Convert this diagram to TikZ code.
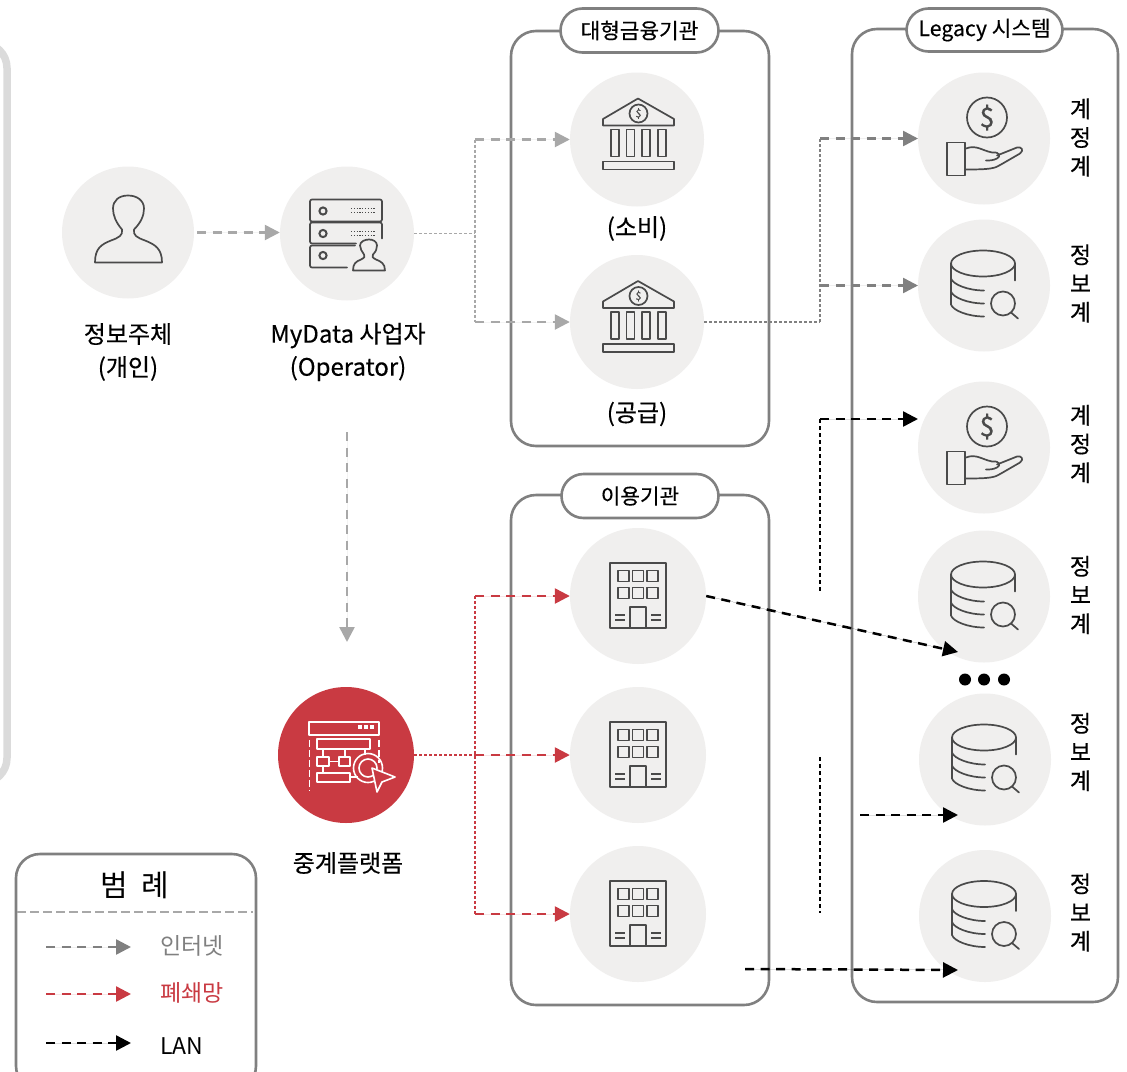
\documentclass[tikz,border=0pt]{standalone}
\usepackage{fontspec}
\setmainfont{Noto Sans CJK KR}
\newfontfamily\medfont{Noto Sans CJK KR}[FakeBold=0.35]
\usetikzlibrary{arrows.meta}
\definecolor{disc}{HTML}{F0EFEE}
\definecolor{ink}{HTML}{4A4A4A}
\definecolor{frame}{HTML}{808080}
\definecolor{lightg}{HTML}{A8A8A8}
\definecolor{midg}{HTML}{808080}
\definecolor{redc}{HTML}{C93A42}
\tikzset{
  x=1pt,y=-1pt,
  disc/.style={circle,fill=disc,draw=none,minimum size=#1,inner sep=0pt},
  groupbox/.style={draw=frame,line width=2.6pt,rounded corners=25pt,fill=white},
  pill/.style={draw=frame,line width=2.6pt,rounded corners=22pt,fill=white,inner sep=0pt},
  icon/.style={draw=ink,line width=1.7pt,line join=round,line cap=round},
  wicon/.style={draw=white,line width=1.6pt,line join=round},
  lbl/.style={inner sep=0pt,align=center,font=\medfont\fontsize{24}{33}\selectfont},
  side/.style={inner sep=0pt,align=center,font=\medfont\fontsize{23}{28.7}\selectfont},
  pilltext/.style={font=\medfont\fontsize{21.3}{25}\selectfont},
  thick dash/.style={line width=2.5pt,dash pattern=on 9pt off 6.5pt,-{Triangle[length=15pt,width=15pt]}},
  thin dash/.style={line width=1.1pt,dash pattern=on 3pt off 2pt},
  lan thin/.style={line width=1.4pt,dash pattern=on 4pt off 3pt},
  bankicon/.pic={\begin{scope}[shift={(-637,-139)}]
    \draw[icon] (603,118.5) -- (638,98) -- (674,118.5) -- (674,125) -- (603,125) -- cycle;
    \draw[icon] (638.5,113) circle[radius=9pt];
    \node[font=\medfont\fontsize{11}{11}\selectfont,text=ink,inner sep=0pt] at (638.5,113) {\$};
    \foreach \a in {611,626.5,642,658}{\draw[icon] (\a,129) rectangle ++(8,27);}
    \draw[icon] (603,161) rectangle (674,169);
  \end{scope}},
  handicon/.pic={\begin{scope}[shift={(-984,-138)}]
    \draw[icon] (987,117) circle[radius=20pt];
    \node[font=\medfont\fontsize{27}{27}\selectfont,text=ink,inner sep=0pt] at (987,117) {\$};
    \draw[icon] (947,142) rectangle (965,175);
    \draw[icon] (966,148) .. controls (976,144) and (982,150) .. (992,152) .. controls (1000,151) and (1001,156) .. (997,158) .. controls (993,160) and (990,160) .. (986,160);
    \draw[icon] (997,155) -- (1017,147) .. controls (1022,146) and (1024,150) .. (1020,153) -- (1001,164) .. controls (995,168) and (990,169) .. (966,169);
  \end{scope}},
  dbicon/.pic={\begin{scope}[shift={(-984,-285)}]
    \draw[icon] (983,263) ellipse[x radius=32pt,y radius=13pt];
    \draw[icon] (951,263) -- (951,304) .. controls (953,310) and (968,316) .. (984,316);
    \draw[icon] (1015,263) -- (1015,280);
    \draw[icon] (951,278) .. controls (953,284) and (968,290) .. (984,290);
    \draw[icon] (951,291) .. controls (953,297) and (968,303) .. (984,303);
    \draw[icon] (1003,303) circle[radius=12pt];
    \draw[icon] (1011,312) -- (1018,318);
  \end{scope}},
  personicon/.pic={\begin{scope}[shift={(-128,-232)}]
    \draw[icon] (95,262) -- (162,262)
      .. controls (162,248) and (155,244) .. (145,240)
      .. controls (137,237) and (133,235) .. (134,229)
      .. controls (141,222) and (144,215) .. (144,208)
      .. controls (144,200) and (137,195) .. (128,195)
      .. controls (119,195) and (113,200) .. (113,208)
      .. controls (113,215) and (116,222) .. (122,229)
      .. controls (123,235) and (119,237) .. (111,240)
      .. controls (101,244) and (95,248) .. (95,262) -- cycle;
  \end{scope}},
  servericon/.pic={\begin{scope}[shift={(-347,-233)}]
    \draw[icon,rounded corners=2pt] (310,199) rectangle (382,221);
    \draw[icon,rounded corners=2pt] (356,243) -- (310,243) -- (310,222) -- (382,222) -- (382,238);
    \draw[icon,rounded corners=2pt] (355,245) -- (310,245) -- (310,267) -- (347,267);
    \foreach \b in {210.5,233,255}{\draw[icon,line width=2pt] (323,\b) circle[radius=3.6pt];}
    \foreach \b in {208,212,231,235}{\draw[draw=ink,line width=1.2pt,dash pattern=on 1.2pt off 1.6pt] (351,\b) -- (375,\b);}
    \draw[icon] (353,270) -- (385,270)
      .. controls (385,263) and (381,261) .. (376,259)
      .. controls (372,257) and (372,256) .. (373,254)
      .. controls (376,251) and (377,248) .. (377,245)
      .. controls (377,241) and (373,239) .. (369,239)
      .. controls (365,239) and (360,241) .. (360,245)
      .. controls (360,248) and (362,251) .. (364,254)
      .. controls (365,256) and (365,257) .. (361,259)
      .. controls (356,261) and (353,263) .. (353,270) -- cycle;
  \end{scope}},
  buildingicon/.pic={\begin{scope}[shift={(-638,-596)}]
    \draw[icon,line cap=butt] (610,563) rectangle (666,628);
    \foreach \a in {618,632.5,647}{\foreach \b in {570.5,587.5}{\draw[icon,line cap=butt] (\a,\b) rectangle ++(11,11);}}
    \draw[icon,line cap=butt] (630,628) -- (630,607) -- (646,607) -- (646,628);
    \foreach \b in {615,620}{\draw[icon,line cap=butt] (615,\b) -- (625,\b); \draw[icon,line cap=butt] (651,\b) -- (661,\b);}
  \end{scope}},
  platformicon/.pic={\begin{scope}[shift={(-346,-755)}]
    \draw[wicon] (309,735) -- (309,722) -- (379,722) -- (379,735) -- cycle;
    \foreach \a in {360,366,372}{\fill[white] (\a-2,725) rectangle (\a+2,729);}
    \draw[wicon,dash pattern=on 7pt off 3pt] (309.5,740) -- (309.5,791);
    \draw[wicon,dash pattern=on 7pt off 3pt] (379,740) -- (379,763);
    \draw[wicon] (317,739) rectangle (370,749);
    \draw[wicon] (317,757) rectangle (329,766);
    \draw[wicon] (339,757) rectangle (350,766);
    \draw[wicon] (317,773) rectangle (350,782);
    \draw[wicon] (323,749) -- (323,757) (345,749) -- (345,757) (323,766) -- (323,773) (365,749) -- (365,755) (329,761.5) -- (339,761.5) (350,777) -- (358,777);
    \draw[wicon] (368,768) circle[radius=14.5pt];
    \draw[wicon] (368,768) circle[radius=9pt];
    \draw[wicon,fill=redc] (372,768) -- (395,777) -- (382,782) -- (377,792) -- cycle;
  \end{scope}}
}
\begin{document}
\begin{tikzpicture}
\useasboundingbox (0,0) rectangle (1127,1071);
\clip (0,0) rectangle (1127,1071);
% left frame
\draw[draw=black!14,line width=7.5pt,rounded corners=25pt] (-300,43) rectangle (7,783);
% groups
\draw[groupbox] (511,31) rectangle (769,446);
\draw[groupbox] (511,495) rectangle (769,1005);
\draw[groupbox] (852,29) rectangle (1118,1002);
\node[pill,pilltext,minimum width=158pt,minimum height=44pt] (pillA) at (639.5,30.5) {대형금융기관};
\node[pill,pilltext,minimum width=157pt,minimum height=44pt] (pillB) at (640,496) {이용기관};
\node[pill,pilltext,minimum width=156pt,minimum height=43pt] (pillC) at (984.5,30) {Legacy 시스템};
% discs
\node[disc=132pt] (person) at (128,232.5) {};
\node[disc=134pt] (operator) at (347,233.5) {};
\node[disc=134pt] (bankA) at (637,139.5) {};
\node[disc=134pt] (bankB) at (637,322) {};
\node[disc=132pt] (handA) at (984,138.5) {};
\node[disc=132pt] (dbA) at (984,285.5) {};
\node[disc=132pt] (handB) at (984,447.5) {};
\node[disc=132pt] (dbB) at (984,596.5) {};
\node[disc=132pt] (dbC) at (985,759.5) {};
\node[disc=132pt] (dbD) at (985,916) {};
\node[circle,fill=redc,minimum size=136pt,inner sep=0pt] (platform) at (346,755) {};
\node[disc=136pt] (bldA) at (638,596) {};
\node[disc=136pt] (bldB) at (638,755) {};
\node[disc=136pt] (bldC) at (638,914) {};
% icons
\pic at (person) {personicon};
\pic at (operator) {servericon};
\pic at (bankA) {bankicon};
\pic at (bankB) {bankicon};
\pic at (handA) {handicon};
\pic at (handB) {handicon};
\pic at (dbA) {dbicon};
\pic at (dbB) {dbicon};
\pic at (dbC) {dbicon};
\pic at (dbD) {dbicon};
\pic at (bldA) {buildingicon};
\pic at (bldB) {buildingicon};
\pic at (bldC) {buildingicon};
\pic at (platform) {platformicon};
% labels
\node[lbl] (tPerson) at (128,352) {정보주체\\(개인)};
\node[lbl] (tOp) at (348,352) {MyData 사업자\\(Operator)};
\node[lbl] (tBankA) at (637,228.5) {(소비)};
\node[lbl] (tBankB) at (637,414) {(공급)};
\node[lbl] (tPlat) at (348,863) {중계플랫폼};
\node[side] (sA) at (1080.5,137.5) {계\\정\\계};
\node[side] (sB) at (1080.5,283.5) {정\\보\\계};
\node[side] (sC) at (1080.5,444) {계\\정\\계};
\node[side] (sD) at (1080.5,595) {정\\보\\계};
\node[side] (sE) at (1080.5,752) {정\\보\\계};
\node[side] (sF) at (1080.5,912.5) {정\\보\\계};
% dots
\foreach \a/\n in {965/a,984/b,1004/c}{\node[circle,fill=black,minimum size=12pt,inner sep=0pt] (dot\n) at (\a,679.5) {};}
% junctions
\coordinate (gJ) at (475,233.5);
\coordinate (gT) at (475,139.5);
\coordinate (gB) at (475,322);
\coordinate (mT) at (820,138.5);
\coordinate (mM) at (820,285.5);
\coordinate (mB) at (820,322);
\coordinate (lT) at (820,419);
\coordinate (lE) at (820,593);
\coordinate (lS) at (820,757);
\coordinate (lF) at (820,913);
\coordinate (rJ) at (475,755);
\coordinate (rT) at (475,596);
\coordinate (rB) at (475,914);
\coordinate (dS) at (347,432);
\coordinate (dE) at (347,642);
\coordinate (aE) at (958,652);
\coordinate (bS) at (860,815);
\coordinate (bE) at (958,815);
\coordinate (cS) at (745,969);
\coordinate (cE) at (958,970);
\coordinate (hT) at (918,138.5);
\coordinate (hM) at (918,285.5);
\coordinate (hB) at (918,419);
% grey connectors
\draw[thick dash,draw=lightg,fill=lightg,shorten <=3pt] (person.east) -- (person.east -| operator.west);
\draw[thick dash,draw=lightg,fill=lightg] (dS) -- (dE);
\draw[thin dash,draw=lightg] (operator.east) -- (gJ);
\draw[thin dash,draw=lightg,line width=1.2pt] (gT) -- (gB);
\draw[thick dash,draw=lightg,fill=lightg] (gT) -- (bankA.west);
\draw[thick dash,draw=lightg,fill=lightg] (gB) -- (bankB.west);
\draw[thin dash,draw=midg] (bankB.east) -- (mB);
\draw[thin dash,draw=midg,line width=1.2pt] (mB) -- (mT);
\draw[thick dash,draw=midg,fill=midg] (mT) -- (hT);
\draw[thick dash,draw=midg,fill=midg] (mM) -- (hM);
% red connectors
\draw[thin dash,draw=redc] (platform.east) -- (rJ);
\draw[thin dash,draw=redc,line width=1.2pt] (rT) -- (rB);
\draw[thick dash,draw=redc,fill=redc] (rT) -- (bldA.west);
\draw[thick dash,draw=redc,fill=redc] (rJ) -- (bldB.west);
\draw[thick dash,draw=redc,fill=redc] (rB) -- (bldC.west);
% black connectors
\draw[lan thin,draw=black] (lT) -- (lE);
\draw[lan thin,draw=black] (lS) -- (lF);
\draw[thick dash,draw=black,fill=black] (lT) -- (hB);
\draw[thick dash,draw=black,fill=black] (bldA.east) -- (aE);
\draw[thick dash,draw=black,fill=black] (bS) -- (bE);
\draw[thick dash,draw=black,fill=black] (cS) -- (cE);
% legend
\draw[draw=frame,line width=2.6pt,rounded corners=24pt,fill=white] (16,854) rectangle (256,1090);
\coordinate (lgA) at (17,912);
\coordinate (lgB) at (253,912);
\draw[draw=lightg,line width=2.5pt,dash pattern=on 9pt off 4pt] (lgA) -- (lgB);
\node[inner sep=0pt,font=\fontsize{30}{34}\selectfont] (legendT) at (135,885) {범\hspace{.45em}례};
\coordinate (k1a) at (46,947); \coordinate (k1b) at (131,947);
\coordinate (k2a) at (46,994); \coordinate (k2b) at (131,994);
\coordinate (k3a) at (46,1043); \coordinate (k3b) at (131,1043);
\draw[thick dash,draw=midg,fill=midg] (k1a) -- (k1b);
\draw[thick dash,draw=redc,fill=redc] (k2a) -- (k2b);
\draw[thick dash,draw=black,fill=black] (k3a) -- (k3b);
\node[anchor=west,inner sep=0pt,text=midg,font=\fontsize{23}{28}\selectfont] (kA) at (160,946) {인터넷};
\node[anchor=west,inner sep=0pt,text=redc,font=\fontsize{23}{28}\selectfont] (kB) at (160,993) {폐쇄망};
\node[anchor=west,inner sep=0pt,text=black,font=\fontsize{23}{28}\selectfont] (kC) at (160,1046) {LAN};
\end{tikzpicture}
\end{document}
